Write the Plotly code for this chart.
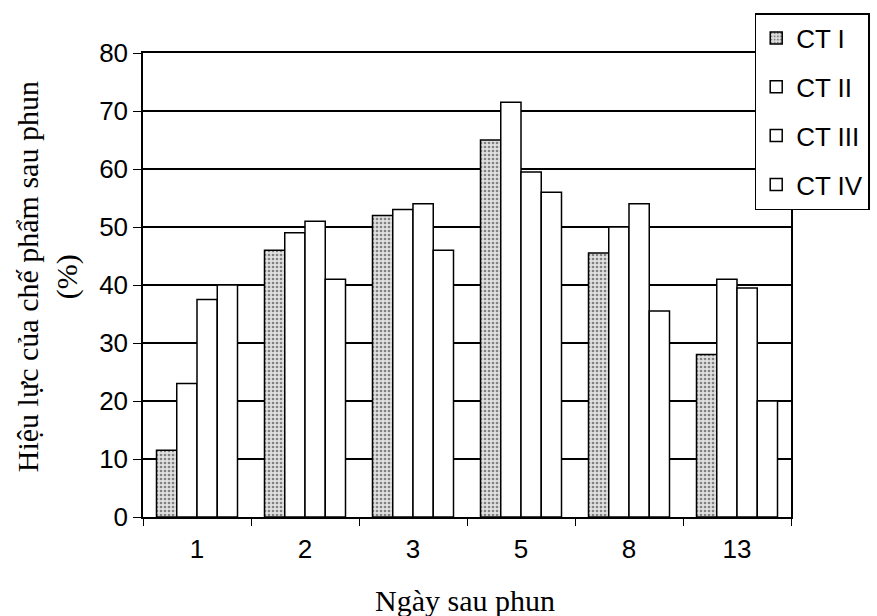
import plotly.graph_objects as go

days = ["1", "2", "3", "5", "8", "13"]
ct1 = [11.5, 46, 52, 65, 45.5, 28]
ct2 = [23, 49, 53, 71.5, 50, 41]
ct3 = [37.5, 51, 54, 59.5, 54, 39.5]
ct4 = [40, 41, 46, 56, 35.5, 20]
series_names = ["CT I", "CT II", "CT III", "CT IV"]
y_ticks = [0, 10, 20, 30, 40, 50, 60, 70, 80]

fig = go.Figure()
for i, (name, vals) in enumerate(zip(series_names, [ct1, ct2, ct3, ct4])):
    marker = dict(color="white", line=dict(color="black", width=1.5))
    if i == 0:
        marker = dict(
            color="#cfcfcf",
            line=dict(color="black", width=1.5),
            pattern=dict(shape=".", fgcolor="#222222", bgcolor="#e0e0e0", size=4, solidity=0.35),
        )
    fig.add_trace(go.Bar(x=days, y=vals, name=name, marker=marker, legendgroup=name))

serif = "Liberation Serif, Times New Roman"
sans = "Liberation Sans, Arial"

fig.update_layout(
    width=877, height=616,
    paper_bgcolor="white", plot_bgcolor="white",
    margin=dict(l=143, r=86, t=53, b=99, autoexpand=False),
    barmode="group", bargap=0.25, bargroupgap=0,
    font=dict(family=sans, color="black", size=20),
    showlegend=True,
    legend=dict(
        x=0.944, y=1.086, xanchor="left", yanchor="top",
        bgcolor="white", bordercolor="black", borderwidth=1.5,
        font=dict(family=sans, size=26, color="black"),
        tracegroupgap=12, itemwidth=30,
    ),
    annotations=[
        dict(text="Hiệu lực của chế phẩm sau phun<br>(%)", textangle=-90,
             xref="paper", yref="paper", x=-0.148, y=0.517, xanchor="center", yanchor="middle",
             showarrow=False, font=dict(family=serif, size=30, color="black")),
        dict(text="Ngày sau phun", xref="paper", yref="paper", x=0.497, y=-0.179,
             xanchor="center", yanchor="middle", showarrow=False,
             font=dict(family=serif, size=30, color="black")),
    ],
)
fig.update_xaxes(
    type="category", showline=True, linecolor="black", linewidth=1.5, mirror=True,
    ticks="outside", ticklen=7, tickcolor="black", tickson="boundaries",
    tickfont=dict(size=26, family=sans), ticklabelstandoff=8,
    showgrid=False,
)
fig.update_yaxes(
    range=[0, 80], tickvals=y_ticks, showline=True, linecolor="black", linewidth=1.5, mirror=True,
    ticks="outside", ticklen=8, tickcolor="black",
    tickfont=dict(size=26, family=sans),
    showgrid=True, gridcolor="black", gridwidth=1.5,
    zeroline=False,
)

fig.write_html("out.html")
